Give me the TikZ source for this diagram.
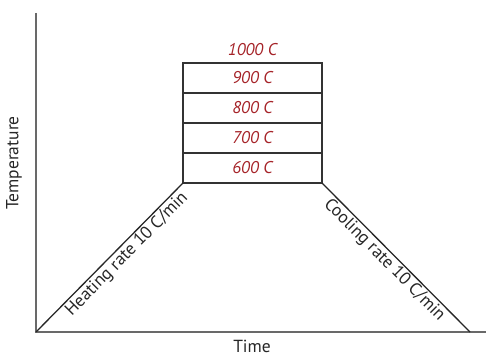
\documentclass[tikz,border=0pt]{standalone}
\usepackage{fontspec}
\setmainfont{PT Sans}
\usetikzlibrary{positioning}
\definecolor{tempred}{RGB}{165,35,40}
\definecolor{axisgray}{RGB}{105,105,105}

\begin{document}
\begin{tikzpicture}[x=1pt,y=1pt,
		row/.style={draw=black!80,line width=1.3pt,minimum width=139pt,minimum height=30pt,inner sep=0pt,outer sep=0pt,text=tempred,font=\itshape\fontsize{17}{17}\selectfont},
		lbl/.style={font=\fontsize{17.5}{17.5}\selectfont,text=black!85,inner sep=1.5pt}]
		\useasboundingbox (0,0) rectangle (486,356);
		\coordinate (O) at (36,24);
		\coordinate (ytop) at (36,343);
		\coordinate (xend) at (486,24);
		\coordinate (cend) at (470,24);
		\draw[axisgray,line width=1.3pt] (ytop) -- (O) -- (xend);
		% stacked temperature rows
		\node[row] (r600) at (252.5,188) {600 C};
		\node[row,above=0pt of r600] (r700) {700 C};
		\node[row,above=0pt of r700] (r800) {800 C};
		\node[row,above=0pt of r800] (r900) {900 C};
		\node[row,draw=none,above=0pt of r900,yshift=-2pt] (r1000) {1000 C};
		\draw[black!85,line width=1.3pt] (O) -- (r600.south west) node[pos=0.57,below,sloped,lbl] {Heating rate 10 C/min};
		\draw[black!85,line width=1.3pt] (r600.south east) -- (cend) node[pos=0.47,below,sloped,lbl] {Cooling rate 10 C/min};
		\node[lbl,rotate=90] (temp) at (14,193) {Temperature};
		\node[lbl] (time) at (252,10) {Time};
	\end{tikzpicture}
\end{document}
